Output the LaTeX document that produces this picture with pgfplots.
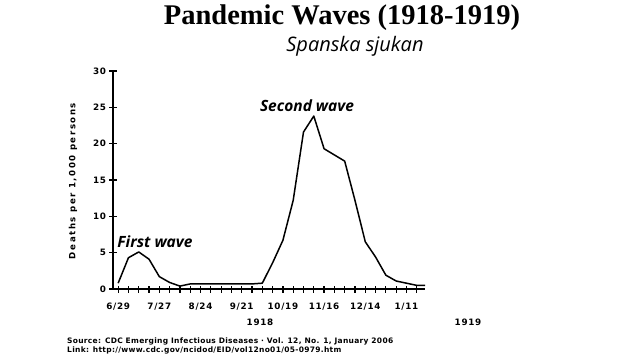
\documentclass[border=0pt]{standalone}
\usepackage{fontspec}
\usepackage{pgfplots}
\pgfplotsset{compat=1.18}
\setmainfont{DejaVu Sans}
\newfontfamily\titlefont{Liberation Serif}
\newfontfamily\subfont{Open Sans}
\newfontfamily\tickfont[LetterSpace=8.0]{DejaVu Sans}
\newfontfamily\labfont[LetterSpace=18.0]{DejaVu Sans}
\newfontfamily\srcfont[LetterSpace=4.0]{DejaVu Sans}
\begin{document}
\begin{tikzpicture}[x=1pt,y=1pt]
\path[use as bounding box] (0,0) rectangle (640,360);
\begin{axis}[
  at={(113pt,71pt)}, anchor=south west,
  scale only axis, width=312pt, height=218pt,
  xmin=-0.5, xmax=29.8, ymin=0, ymax=30,
  axis x line=bottom, axis y line=left,
  axis line style={-, line width=1.4pt},
  xtick={0,4,...,28},
  xticklabels={6/29,7/27,8/24,9/21,10/19,11/16,12/14,1/11},
  minor xtick={0,1,...,29},
  ytick={0,5,...,30},
  tick align=center,
  major tick length=7pt, minor tick length=7pt,
  tick style={line width=1.2pt, black},
  /pgf/number format/assume math mode=true,
  tick label style={font=\tickfont\bfseries\fontsize{8.8}{10}\selectfont},
  xticklabel style={yshift=-7pt},
  clip=false,
]
\addplot[black, line width=1.5pt, line join=round] coordinates {
(0,0.8) (1,4.3) (2,5.1) (3,4.1) (4,1.7) (5,0.9) (6,0.4) (7,0.7)
(8,0.7) (9,0.7) (10,0.7) (11,0.7) (12,0.7) (13,0.7) (14,0.8)
(15,3.6) (16,6.7) (17,12.2) (18,21.6) (19,23.8) (20,19.3) (22,17.6)
(23,12.2) (24,6.5) (25,4.4) (26,1.9) (27,1.1) (28,0.8) (29,0.5) (29.8,0.5)
};
\end{axis}
\node[rotate=90, font=\labfont\bfseries\fontsize{8.6}{10}\selectfont] at (73,179) {Deaths per 1,000 persons};
\node[font=\titlefont\bfseries\fontsize{28.5}{30}\selectfont] at (342,342) {Pandemic Waves (1918-1919)};
\node[font=\subfont\itshape\fontsize{20}{22}\selectfont] at (355,314) {Spanska sjukan};
\node[font=\subfont\bfseries\itshape\fontsize{15.5}{17}\selectfont] at (307,254) {Second wave};
\node[font=\subfont\bfseries\itshape\fontsize{15.5}{17}\selectfont] at (155,118) {First wave};
\node[font=\tickfont\bfseries\fontsize{8.8}{10}\selectfont] at (260,38) {1918};
\node[font=\tickfont\bfseries\fontsize{8.8}{10}\selectfont] at (468,38) {1919};
\node[font=\srcfont\bfseries\fontsize{7.5}{9}\selectfont, anchor=west, align=left, inner sep=0pt] at (67,14.5) {Source: CDC Emerging Infectious Diseases · Vol. 12, No. 1, January 2006\\Link: http://www.cdc.gov/ncidod/EID/vol12no01/05-0979.htm};
\end{tikzpicture}
\end{document}
